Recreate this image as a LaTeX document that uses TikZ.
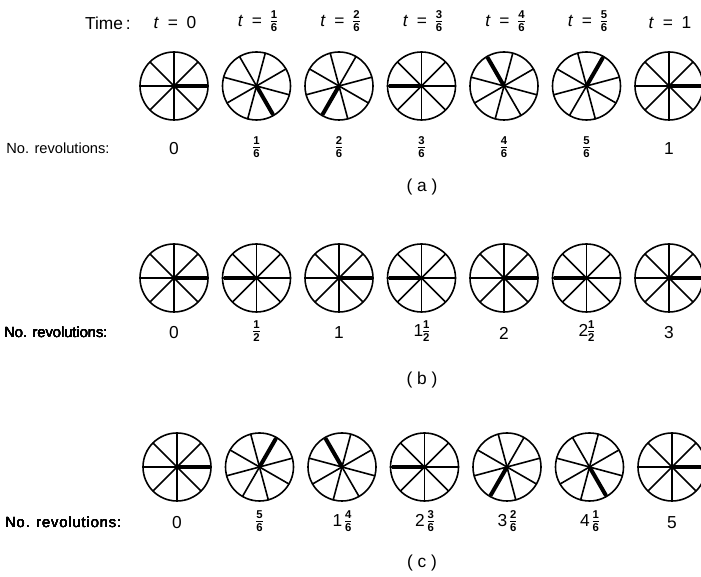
\documentclass[tikz,border=0pt]{standalone}
\usepackage{fontspec}
\setmainfont{Liberation Sans}

\newcommand{\fr}[2]{\ensuremath{\vcenter{\hbox{\fontsize{8.5}{8.5}\selectfont\bfseries
  \begin{tabular}{@{}c@{}}#1\\[-0.6pt]\hline\noalign{\vskip1.4pt}#2\end{tabular}}}}}
% wheel: centre x, centre y, angle of the marked spoke
\newcommand{\spokewheel}[3]{%
  \draw[rim] (#1,#2) circle (34);
  \foreach \j in {0,...,7}
    \draw[rim] (#1,#2) -- ++(#3+45*\j:34);
  \draw[mark spoke] (#1,#2) -- ++(#3:33);
}

\tikzset{
  rim/.style={line width=1.2pt, line cap=round},
  mark spoke/.style={line width=3pt},
  lbl/.style={font=\fontsize{13}{15}\selectfont, inner sep=0pt},
  rowlbl/.style={font=\fontsize{11}{13}\selectfont, inner sep=0pt, anchor=west}
}

\begin{document}
\begin{tikzpicture}[x=0.75pt,y=0.75pt]
  \useasboundingbox (0,0) rectangle (701,577);

  % (a) one sixth of a turn per step
  \node[lbl, anchor=east] (time) at (131,554) {Time\,:};
  \foreach \k/\v in {0/0, 1/\fr{1}{6}, 2/\fr{2}{6}, 3/\fr{3}{6}, 4/\fr{4}{6}, 5/\fr{5}{6}, 6/1} {
    \node[lbl] (ta\k) at (175+82.5*\k,554) {\textit{t}\hspace{0.5em}=\hspace{0.5em}\v};
    \spokewheel{174+82.5*\k}{491}{-60*\k}
  }
  \node[rowlbl] (reva) at (6,429) {No. revolutions:};
  \foreach \k/\v in {0/0, 1/\fr{1}{6}, 2/\fr{2}{6}, 3/\fr{3}{6}, 4/\fr{4}{6}, 5/\fr{5}{6}, 6/1}
    \node[lbl] (a\k) at (174+82.5*\k,428) {\v};
  \node[lbl] (capa) at (422,390) {( a )};

  % (b) half a turn per step
  \foreach \k in {0,...,6}
    \spokewheel{174+82.5*\k}{299}{-180*\k}
  \node[rowlbl] (revb) at (4,245) {No. revolutions:};
  \foreach \k/\v in {0/0, 1/\fr{1}{2}, 2/1, 3/1\fr{1}{2}, 4/2, 5/2\fr{1}{2}, 6/3}
    \node[lbl] (b\k) at (174+82.5*\k,244) {\v};
  \node[lbl] (capb) at (422,197) {( b )};

  % (c) five sixths of a turn per step
  \foreach \k in {0,...,6}
    \spokewheel{177+82.5*\k}{110}{-300*\k}
  \node[rowlbl] (revc) at (5,55) {\addfontfeature{LetterSpace=6}No. revolutions:};
  \foreach \k/\v in {0/0, 1/\fr{5}{6}, 2/1\,\fr{4}{6}, 3/2\,\fr{3}{6}, 4/3\,\fr{2}{6}, 5/4\,\fr{1}{6}, 6/5}
    \node[lbl] (c\k) at (177+82.5*\k,54) {\v};
  \node[lbl] (capc) at (422,14) {( c )};
\end{tikzpicture}
\end{document}
